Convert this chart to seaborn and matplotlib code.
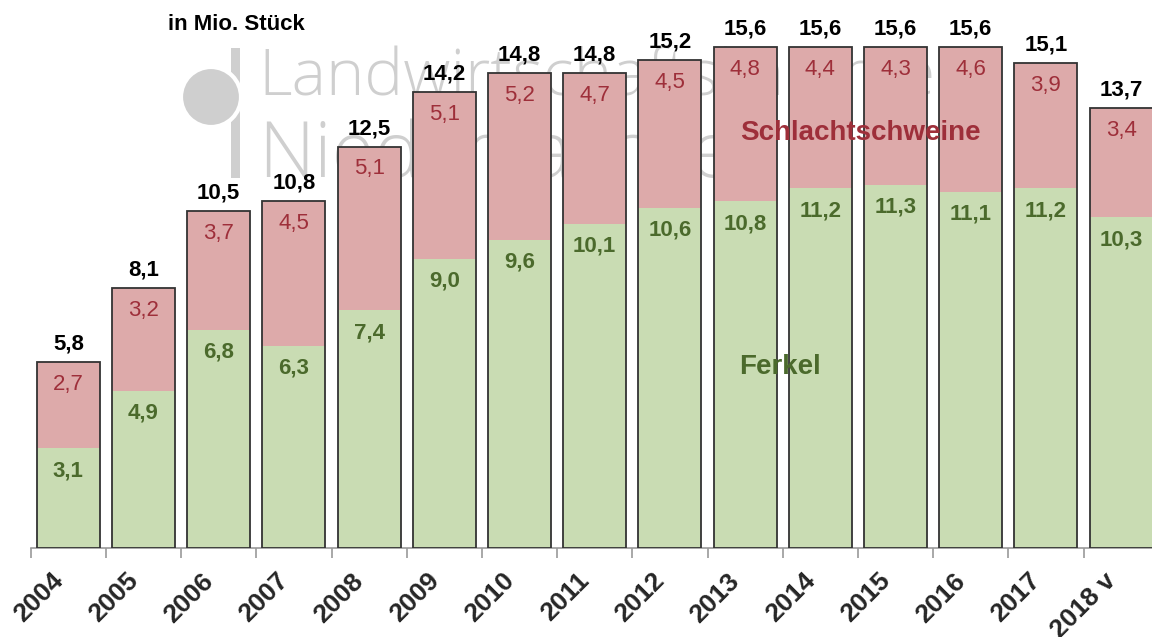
import matplotlib
matplotlib.use("Agg")
import matplotlib.pyplot as plt
from matplotlib.patches import Ellipse, Rectangle
from matplotlib.ticker import FixedLocator
from matplotlib.transforms import ScaledTranslation
import seaborn as sns
import pandas as pd

# Data (million animals)
years = ["2004", "2005", "2006", "2007", "2008", "2009", "2010", "2011",
         "2012", "2013", "2014", "2015", "2016", "2017", "2018 v"]
ferkel = [3.1, 4.9, 6.8, 6.3, 7.4, 9.0, 9.6, 10.1, 10.6, 10.8, 11.2, 11.3, 11.1, 11.2, 10.3]
schlachtschweine = [2.7, 3.2, 3.7, 4.5, 5.1, 5.1, 5.2, 4.7, 4.5, 4.8, 4.4, 4.3, 4.6, 3.9, 3.4]
gesamt = [5.8, 8.1, 10.5, 10.8, 12.5, 14.2, 14.8, 14.8, 15.2, 15.6, 15.6, 15.6, 15.6, 15.1, 13.7]

df = pd.DataFrame({"Jahr": years, "Ferkel": ferkel,
                   "Schlachtschweine": schlachtschweine, "Gesamt": gesamt})

GREEN = "#c9dcb3"
PINK = "#ddaaaa"
DARK_GREEN = "#4b6a2c"
DARK_RED = "#9e2f3a"
EDGE = "#333333"
FONT = ["Liberation Sans", "DejaVu Sans"]

sns.set_theme(style="white")
plt.rcParams["font.family"] = FONT

fig = plt.figure(figsize=(11.52, 6.37), dpi=100)
ax = fig.add_axes([30.7 / 1152, 89 / 637, 1128 / 1152, 548 / 637])
ax.set_facecolor("none")

# Watermark logo behind the chart
WM = "#cfcfcf"
fig.patches.append(Rectangle((231 / 1152, 1 - 178 / 637), 9 / 1152, 130 / 637,
                             transform=fig.transFigure, facecolor=WM,
                             edgecolor="none", zorder=-2))
fig.patches.append(Ellipse((211 / 1152, 1 - 97 / 637), 60 / 1152, 60 / 637,
                           transform=fig.transFigure, facecolor=WM,
                           edgecolor="white", linewidth=3, zorder=-1))
fig.text(258 / 1152, 1 - 96 / 637, "Landwirtschaftskammer", fontsize=47,
         color=WM, family=["Open Sans", "DejaVu Sans"], fontweight="light",
         ha="left", va="baseline", zorder=-2)
fig.text(258 / 1152, 1 - 177 / 637, "Niedersachsen", fontsize=56,
         color=WM, family=["Open Sans", "DejaVu Sans"], fontweight="light",
         ha="left", va="baseline", zorder=-2)

# Stacked bars: full height in pink, piglets overlaid in green, then outline
sns.barplot(data=df, x="Jahr", y="Gesamt", color=PINK, width=0.84,
            saturation=1, linewidth=0, ax=ax, zorder=2)
sns.barplot(data=df, x="Jahr", y="Ferkel", color=GREEN, width=0.84,
            saturation=1, linewidth=0, ax=ax, zorder=3)
sns.barplot(data=df, x="Jahr", y="Gesamt", fill=False, width=0.84,
            edgecolor=EDGE, linewidth=1.3, ax=ax, zorder=4)

n = len(years)
ax.set_xlim(-0.5, n - 0.5)
ax.set_ylim(0, 17.07)

for i in range(n):
    ax.annotate(f"{gesamt[i]:.1f}".replace(".", ","), (i, gesamt[i]),
                xytext=(0, 13), textcoords="offset points", ha="center",
                va="center", fontsize=16, fontweight="bold", color="black",
                zorder=5)
    ax.annotate(f"{schlachtschweine[i]:.1f}".replace(".", ","), (i, gesamt[i]),
                xytext=(0, -16), textcoords="offset points", ha="center",
                va="center", fontsize=16, color=DARK_RED, zorder=5)
    ax.annotate(f"{ferkel[i]:.1f}".replace(".", ","), (i, ferkel[i]),
                xytext=(0, -16), textcoords="offset points", ha="center",
                va="center", fontsize=16, fontweight="bold", color=DARK_GREEN,
                zorder=5)

ax.text(10.54, 12.93, "Schlachtschweine", fontsize=20, fontweight="bold",
        color=DARK_RED, ha="center", va="center", zorder=6)
ax.text(9.46, 5.64, "Ferkel", fontsize=20, fontweight="bold",
        color=DARK_GREEN, ha="center", va="center", zorder=6)
fig.text(236 / 1152, 1 - 25 / 637, "in Mio. Stück", fontsize=16,
         fontweight="bold", color="black", ha="center", va="center")

# Axes styling: only a grey baseline with ticks between the categories
for side in ["left", "right", "top"]:
    ax.spines[side].set_visible(False)
ax.spines["bottom"].set_color("#9a9a9a")
ax.spines["bottom"].set_linewidth(1.2)
ax.set_yticks([])
ax.set_xlabel("")
ax.set_ylabel("")
ax.xaxis.set_minor_locator(FixedLocator([i - 0.5 for i in range(n + 1)]))
ax.tick_params(axis="x", which="minor", bottom=True, length=7, width=1.2,
               color="#9a9a9a")
ax.tick_params(axis="x", which="major", bottom=False, length=0, pad=21)
ax.set_xticks(range(n))
ax.set_xticklabels(years, rotation=45, ha="right", va="center",
                   rotation_mode="anchor", fontsize=19, fontweight="bold")
shift = ScaledTranslation(-9 / 100, 0, fig.dpi_scale_trans)
for lbl in ax.get_xticklabels():
    lbl.set_transform(lbl.get_transform() + shift)

fig.savefig("out.png", dpi=100)
